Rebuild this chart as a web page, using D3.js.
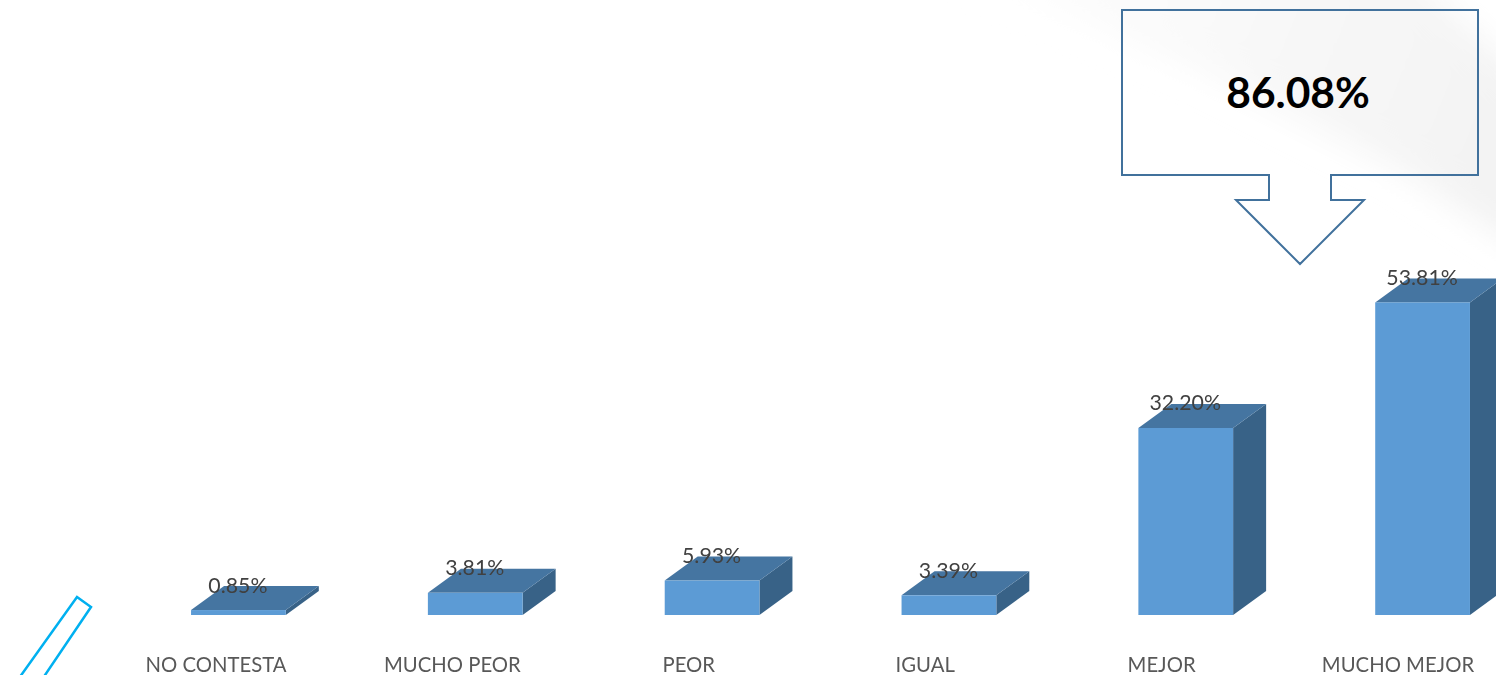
<!DOCTYPE html>
<html><head><meta charset="utf-8">
<script src="https://cdnjs.cloudflare.com/ajax/libs/d3/7.8.5/d3.min.js"></script>
<style>html,body{margin:0;padding:0;background:#fff;overflow:hidden}svg{display:block}
text{font-family:Lato,"Open Sans",sans-serif}</style></head>
<body><div id="chart"></div>
<script>
const categories=["NO CONTESTA","MUCHO PEOR","PEOR","IGUAL","MEJOR","MUCHO MEJOR"];
const values=[0.85,3.81,5.93,3.39,32.20,53.81];
const valueLabels=["0.85%","3.81%","5.93%","3.39%","32.20%","53.81%"];
const calloutLabel="86.08%";

const W=1496,H=675,dx=33,dy=24;
const svg=d3.select("#chart").append("svg").attr("width",W).attr("height",H);
const defs=svg.append("defs");
defs.append("filter").attr("id","soft").append("feGaussianBlur").attr("stdDeviation",0.7);
defs.append("filter").attr("id","softText").append("feGaussianBlur").attr("stdDeviation",0.35);
defs.append("filter").attr("id","bgblur").attr("x","-20%").attr("y","-20%").attr("width","140%").attr("height","140%")
  .append("feGaussianBlur").attr("stdDeviation",16);
const g0=defs.append("linearGradient").attr("id","bg").attr("x1",0).attr("y1",0).attr("x2",1).attr("y2",0.2);
g0.append("stop").attr("offset",0).attr("stop-color","#fff");
g0.append("stop").attr("offset",1).attr("stop-color","#f3f3f3");

// faint background sheen, top right
svg.append("path").attr("d","M940,-40 L1400,-40 L1540,95 L1540,260 L1400,170 L1200,70 Z")
  .attr("fill","url(#bg)").attr("filter","url(#bgblur)");

const x=d3.scaleBand().domain(categories).range([120,1541]).paddingInner(0.6).paddingOuter(0.3);
const y=d3.scaleLinear().domain([0,60]).range([615,266.5]);
const xLabel=d3.scalePoint().domain(categories).range([216,1398]);

const bars=svg.append("g").attr("filter","url(#soft)").selectAll("g").data(categories).join("g");
const L=c=>x(c), R=c=>x(c)+x.bandwidth(), T=(c,i)=>y(values[i]), B=y(0);
const pts=a=>a.map(p=>p.join(",")).join(" ");
bars.append("polygon").attr("fill","#386287")
  .attr("points",(c,i)=>pts([[R(c),T(c,i)],[R(c)+dx,T(c,i)-dy],[R(c)+dx,B-dy],[R(c),B]]));
bars.append("polygon").attr("fill","#4575a1")
  .attr("points",(c,i)=>pts([[L(c),T(c,i)],[L(c)+dx,T(c,i)-dy],[R(c)+dx,T(c,i)-dy],[R(c),T(c,i)]]));
bars.append("rect").attr("fill","#5b9bd5")
  .attr("x",c=>L(c)).attr("y",(c,i)=>T(c,i)).attr("width",x.bandwidth()).attr("height",(c,i)=>B-T(c,i));

svg.append("g").attr("filter","url(#softText)").selectAll("text").data(valueLabels).join("text")
  .attr("x",(d,i)=>L(categories[i])+x.bandwidth()/2-0.5)
  .attr("y",(d,i)=>y(values[i])-17.5)
  .attr("text-anchor","middle").attr("font-size",21.3).attr("fill","#404040").text(d=>d);

svg.append("g").attr("filter","url(#softText)").selectAll("text").data(categories).join("text")
  .attr("x",c=>xLabel(c)).attr("y",672)
  .attr("text-anchor","middle").attr("font-size",20.3).attr("fill","#595959").text(d=>d);

// callout arrow
svg.append("path").attr("fill","none").attr("stroke","#41719c").attr("stroke-width",2)
  .attr("d",d3.line()([[1122,10],[1478,10],[1478,175],[1331,175],[1331,200],[1364,200],[1300,264],[1236,200],[1269,200],[1269,175],[1122,175]])+"Z");
svg.append("text").attr("x",1298).attr("y",108).attr("text-anchor","middle")
  .attr("font-size",42.5).attr("font-weight",700).attr("fill","#000").text(calloutLabel);

// decorative outline, lower left
svg.append("path").attr("fill","none").attr("stroke","#00b0f0").attr("stroke-width",2.5)
  .attr("d",d3.line()([[77,597],[91,607],[41,681],[17,681]])+"Z");
</script></body></html>
